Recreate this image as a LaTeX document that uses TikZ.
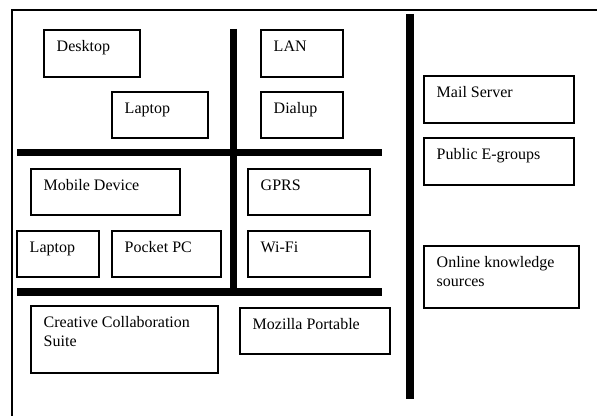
\documentclass[tikz,border=0pt]{standalone}
\usepackage{fontspec}
\setmainfont{Liberation Serif}
\begin{document}
\begin{tikzpicture}[x=0.75pt,y=-0.75pt,
  box/.style={draw=black,line width=1.5pt,rectangle,inner sep=0pt},
  lbl/.style={anchor=base west,inner sep=0pt,font=\fontsize{12}{14.2}\selectfont},
  bar/.style={line width=5.4pt,line cap=butt},
  frame/.style={line width=1.1pt}]
\useasboundingbox (0,0) rectangle (597,416);
% outer frame (open to the right and bottom)
\coordinate (fb) at (12,416);
\coordinate (fc) at (12,10);
\coordinate (fr) at (597,10);
\draw[frame] (fb) -- (fc) -- (fr);
% one box: name, left, top, right, bottom, label (first line on the baseline)
\newcommand\cellbox[6]{%
  \node[box,anchor=north west,minimum width={(#4-#2)*0.75pt},minimum height={(#5-#3)*0.75pt}] (#1) at (#2,#3) {};
  \node[lbl] (#1-t) at ([xshift=10.1pt,yshift=-16.9pt]#1.north west)
    {\begin{tabular}[t]{@{}l@{}}#6\end{tabular}};}
% dividing bars
\coordinate (v1t) at (233.5,29);
\coordinate (v1b) at (233.5,289);
\coordinate (h1l) at (17,152.5);
\coordinate (h1r) at (382,152.5);
\coordinate (h2l) at (17,292);
\coordinate (h2r) at (382,292);
\coordinate (v2t) at (410,14);
\coordinate (v2b) at (410,399);
\draw[bar] (v1t) -- (v1b);
\draw[bar] (h1l) -- (h1r);
\draw[bar] (h2l) -- (h2r);
\draw[bar] (v2t) -- (v2b);
% boxes
\cellbox{desk}{43}{29}{139}{76}{Desktop}
\cellbox{lap1}{111}{91}{207}{137}{Laptop}
\cellbox{lan}{260}{29}{342}{76}{LAN}
\cellbox{dial}{260}{91}{342}{137}{Dialup}
\cellbox{mob}{30}{168}{179}{214}{Mobile Device}
\cellbox{gprs}{247}{168}{369}{214}{GPRS}
\cellbox{lap2}{16}{230}{98}{276}{Laptop}
\cellbox{ppc}{111}{230}{220}{276}{Pocket PC}
\cellbox{wifi}{247}{230}{369}{276}{Wi-Fi}
\cellbox{ccs}{30}{305}{217}{372}{Creative Collaboration\\Suite}
\cellbox{moz}{239}{307}{389}{353}{Mozilla Portable}
\cellbox{mail}{423}{75}{573}{122}{Mail Server}
\cellbox{pub}{423}{137}{573}{184}{Public E-groups}
\cellbox{onl}{423}{245}{578}{307}{Online knowledge\\sources}
\end{tikzpicture}
\end{document}
